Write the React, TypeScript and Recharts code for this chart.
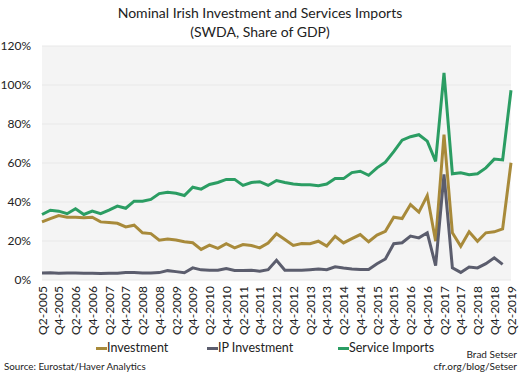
import React from 'react';
import { LineChart, Line, XAxis, YAxis, CartesianGrid } from 'recharts';

const quarters = [
  'Q2-2005', 'Q3-2005', 'Q4-2005', 'Q1-2006', 'Q2-2006', 'Q3-2006', 'Q4-2006', 'Q1-2007',
  'Q2-2007', 'Q3-2007', 'Q4-2007', 'Q1-2008', 'Q2-2008', 'Q3-2008', 'Q4-2008', 'Q1-2009',
  'Q2-2009', 'Q3-2009', 'Q4-2009', 'Q1-2010', 'Q2-2010', 'Q3-2010', 'Q4-2010', 'Q1-2011',
  'Q2-2011', 'Q3-2011', 'Q4-2011', 'Q1-2012', 'Q2-2012', 'Q3-2012', 'Q4-2012', 'Q1-2013',
  'Q2-2013', 'Q3-2013', 'Q4-2013', 'Q1-2014', 'Q2-2014', 'Q3-2014', 'Q4-2014', 'Q1-2015',
  'Q2-2015', 'Q3-2015', 'Q4-2015', 'Q1-2016', 'Q2-2016', 'Q3-2016', 'Q4-2016', 'Q1-2017',
  'Q2-2017', 'Q3-2017', 'Q4-2017', 'Q1-2018', 'Q2-2018', 'Q3-2018', 'Q4-2018', 'Q1-2019',
  'Q2-2019',
];

const investment = [
  29.8, 31.5, 33.0, 32.2, 32.2, 31.9, 32.2, 29.8, 29.5, 29.1, 27.2, 28.1, 24.2, 23.8, 20.4, 21.0,
  20.5, 19.6, 19.1, 15.7, 17.9, 16.2, 18.6, 16.5, 18.2, 17.7, 16.5, 19.0, 23.7, 20.8, 17.7, 18.7,
  18.6, 19.9, 17.4, 22.4, 19.0, 21.2, 23.3, 19.6, 23.0, 25.0, 32.2, 31.5, 38.7, 34.8, 43.3, 19.9,
  74.6, 24.2, 17.3, 24.7, 19.9, 24.2, 24.7, 26.2, 60.1,
];

const ipInvestment = [
  3.6, 3.7, 3.4, 3.6, 3.6, 3.5, 3.4, 3.3, 3.4, 3.5, 3.9, 3.9, 3.6, 3.6, 3.8, 4.8,
  4.3, 3.7, 6.2, 5.2, 5.0, 5.0, 5.9, 4.9, 4.9, 5.0, 4.5, 5.3, 10.1, 5.0, 5.0, 5.0,
  5.3, 5.6, 5.3, 6.8, 6.2, 5.7, 5.4, 5.4, 8.3, 10.8, 18.6, 19.1, 22.5, 21.6, 24.2, 7.4,
  54.1, 6.2, 3.9, 6.7, 6.2, 8.4, 11.4, 8.0, null,
];

const serviceImports = [
  33.6, 35.8, 35.3, 34.0, 36.5, 33.6, 35.3, 34.0, 35.8, 37.9, 36.8, 40.4, 40.4, 41.3, 44.3, 45.0,
  44.5, 43.3, 47.6, 46.6, 49.0, 50.0, 51.6, 51.6, 48.5, 50.0, 50.4, 48.5, 51.0, 50.0, 49.2, 48.9,
  48.9, 48.4, 49.2, 52.0, 52.0, 55.1, 55.8, 53.7, 57.5, 60.4, 65.8, 71.7, 73.5, 74.5, 71.2, 60.8,
  106.2, 54.5, 55.0, 54.0, 54.5, 57.5, 62.0, 61.6, 97.3,
];

const yTicks = [0, 20, 40, 60, 80, 100, 120];

const GOLD = '#a88a3a';
const GRAY = '#5b5d6d';
const GREEN = '#2b9d63';
const FONT = 'Lato, "Open Sans", sans-serif';

const data = quarters.map((q, i) => ({
  quarter: q,
  investment: investment[i],
  ip: ipInvestment[i],
  services: serviceImports[i],
}));

const legendItems = [
  { label: 'Investment', color: GOLD, left: 96 },
  { label: 'IP Investment', color: GRAY, left: 207 },
  { label: 'Service Imports', color: GREEN, left: 338 },
];

// rotated label centred on its point
function QuarterTick({ x, y, payload }: any) {
  return (
    <text
      x={x}
      y={y}
      transform={`rotate(-90 ${x} ${y})`}
      textAnchor="end"
      dominantBaseline="central"
      fontSize={12}
      fill="#222"
      fontFamily={FONT}
    >
      {payload.value}
    </text>
  );
}

export default function App() {
  return (
    <div
      style={{
        position: 'absolute',
        left: 0,
        top: 0,
        width: 520,
        height: 374,
        background: '#fff',
        fontFamily: FONT,
        color: '#222',
      }}
    >
      <div
        style={{
          position: 'absolute',
          top: 3,
          left: 0,
          width: 520,
          textAlign: 'center',
          fontSize: 14,
          lineHeight: '19px',
        }}
      >
        Nominal Irish Investment and Services Imports
        <br />
        (SWDA, Share of GDP)
      </div>
      <LineChart
        width={520}
        height={374}
        data={data}
        margin={{ top: 46, right: 9, left: 0, bottom: 0 }}
        style={{ position: 'absolute', top: 0, left: 0 }}
      >
        <CartesianGrid vertical={false} fill="#f4f4f4" stroke="#e8e8e8" strokeWidth={1} />
        <XAxis
          dataKey="quarter"
          interval={1}
          height={94}
          tickLine={false}
          axisLine={false}
          tickSize={0}
          tickMargin={6}
          tick={<QuarterTick />}
        />
        <YAxis
          width={42}
          domain={[0, 120]}
          ticks={yTicks}
          tickFormatter={(v) => `${v}%`}
          tickLine={false}
          axisLine={false}
          tickSize={0}
          tickMargin={11}
          tick={{ fontSize: 12, fill: '#222', fontFamily: FONT }}
        />
        <Line
          dataKey="investment"
          stroke={GOLD}
          strokeWidth={3}
          dot={false}
          type="linear"
          isAnimationActive={false}
        />
        <Line
          dataKey="ip"
          stroke={GRAY}
          strokeWidth={3}
          dot={false}
          type="linear"
          isAnimationActive={false}
        />
        <Line
          dataKey="services"
          stroke={GREEN}
          strokeWidth={3}
          dot={false}
          type="linear"
          isAnimationActive={false}
        />
      </LineChart>
      {legendItems.map((item) => (
        <div
          key={item.label}
          style={{
            position: 'absolute',
            top: 339,
            left: item.left,
            display: 'flex',
            alignItems: 'center',
            fontSize: 12.5,
            lineHeight: '18px',
          }}
        >
          <span style={{ display: 'inline-block', width: 11, height: 3, background: item.color }} />
          {item.label}
        </div>
      ))}
      <div style={{ position: 'absolute', left: 4, top: 359, fontSize: 9.8, lineHeight: '14px' }}>
        Source: Eurostat/Haver Analytics
      </div>
      <div
        style={{
          position: 'absolute',
          right: 3,
          top: 349,
          fontSize: 10,
          lineHeight: '11.5px',
          textAlign: 'right',
        }}
      >
        Brad Setser
        <br />
        cfr.org/blog/Setser
      </div>
    </div>
  );
}
